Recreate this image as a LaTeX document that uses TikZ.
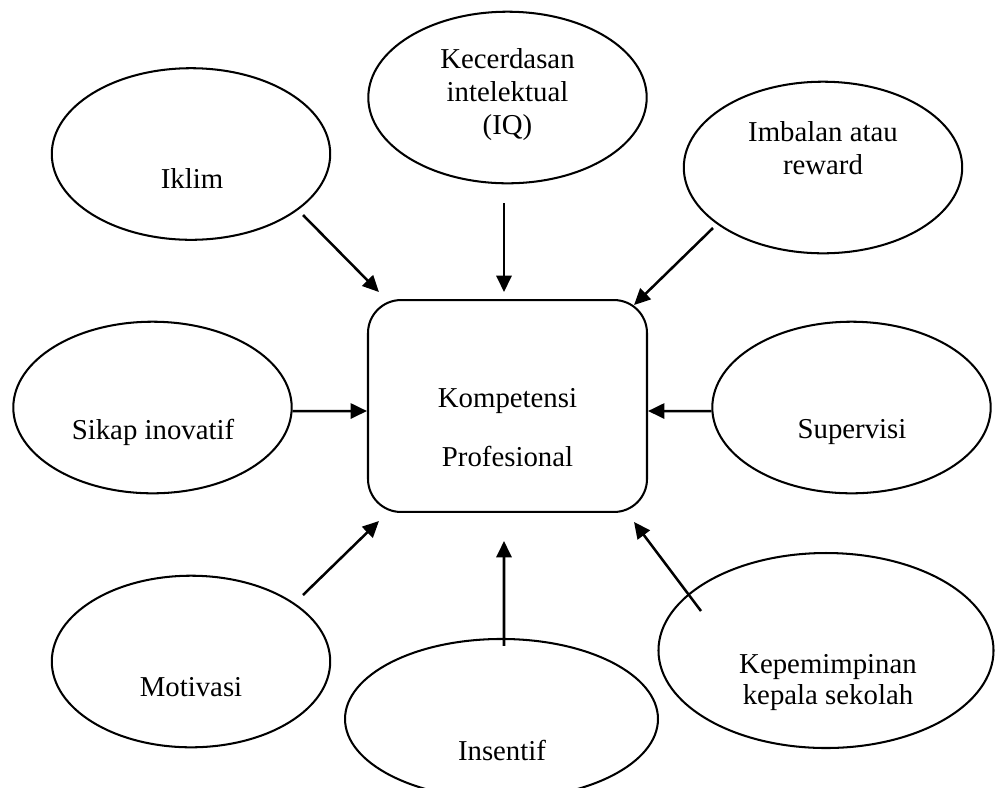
\documentclass[tikz,border=0pt]{standalone}
\usepackage{fontspec}
\setmainfont{Liberation Serif}
\usetikzlibrary{shapes.geometric,arrows.meta}

\begin{document}
\begin{tikzpicture}[x=0.41667pt,y=-0.41667pt,
    oval/.style={draw,ellipse,line width=0.85pt,inner sep=0pt,minimum width=116pt,minimum height=71.5pt},
    kotak/.style={draw,rounded corners=13.75pt,line width=0.85pt,minimum width=116.25pt,minimum height=88.3pt},
    tulisan/.style={align=center,font=\fontsize{12pt}{13.75pt}\selectfont},
    panah/.style={-{Triangle[length=6.8pt,width=6.3pt]},line width=1.05pt}]
    \clip (0,0) rectangle (995,787);

    % pusat
    \node[kotak] (komp) at (507.5,406) {};
    \node[tulisan,font=\fontsize{12pt}{24.6pt}\selectfont] (kompt) at (507.5,427.5) {Kompetensi\\Profesional};

    % faktor-faktor
    \node[oval] (iklim) at (191,154) {};
    \node[tulisan] (iklimt) at (192,178) {Iklim};
    \node[oval] (kec) at (507.5,97.5) {};
    \node[tulisan] (kect) at (507.5,95) {Kecerdasan\\intelektual\\(IQ)};
    \node[oval] (imbalan) at (823,167.5) {};
    \node[tulisan] (imbalant) at (823,148.5) {Imbalan atau\\reward};
    \node[oval] (sikap) at (152.5,407.5) {};
    \node[tulisan] (sikapt) at (153,432) {Sikap inovatif};
    \node[oval] (supervisi) at (851.5,407.5) {};
    \node[tulisan] (supervisit) at (852,432) {Supervisi};
    \node[oval] (motivasi) at (191,661.5) {};
    \node[tulisan] (motivasit) at (191,687) {Motivasi};
    \node[oval,minimum width=130.4pt,minimum height=66.7pt] (insentif) at (501.5,719) {};
    \node[tulisan] (insentift) at (502,750) {Insentif};
    \node[oval,minimum width=139.6pt,minimum height=81.25pt] (kepala) at (826,650.5) {};
    \node[tulisan,font=\fontsize{12pt}{12.9pt}\selectfont] (kepalat) at (828,682.5) {Kepemimpinan\\kepala sekolah};

    % panah ke kompetensi
    \draw[panah] ([shift={(112,61)}]iklim.center) -- ([shift={(12,-7)}]komp.north west);
    \draw[panah] ([shift={(-3.5,19)}]kec.south) -- ([shift={(-3.5,-7)}]komp.north);
    \draw[panah] ([shift={(-110,60.5)}]imbalan.center) -- ([shift={(-14,6)}]komp.north east);
    \draw[panah] ([shift={(0,3.5)}]sikap.east) -- ([shift={(0,5)}]komp.west);
    \draw[panah] ([shift={(0,3.5)}]supervisi.west) -- ([shift={(0,5)}]komp.east);
    \draw[panah] ([shift={(112,-66.5)}]motivasi.center) -- ([shift={(12,8)}]komp.south west);
    \draw[panah] ([shift={(2.5,8)}]insentif.north) -- ([shift={(-3.5,28)}]komp.south);
    \draw[panah] ([shift={(-125,-39.5)}]kepala.center) -- ([shift={(-14,9)}]komp.south east);
\end{tikzpicture}
\end{document}
